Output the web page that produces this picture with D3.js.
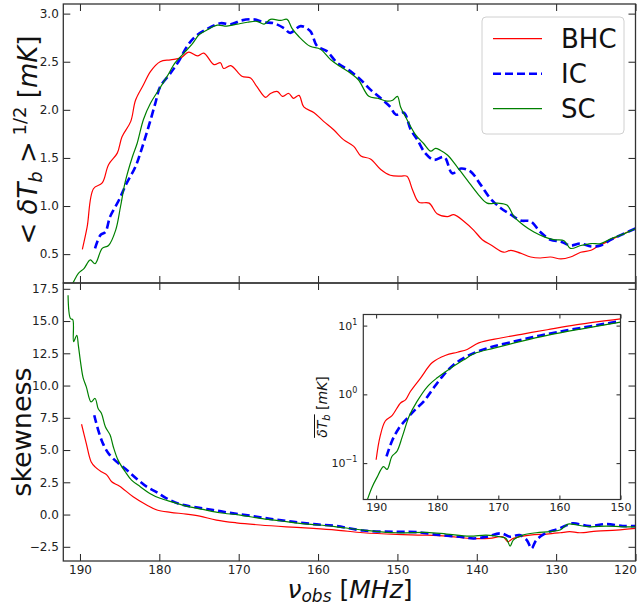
<!DOCTYPE html>
<html>
<head>
<meta charset="utf-8">
<script src="https://cdn.jsdelivr.net/npm/d3@7"></script>
<style>
  body { margin: 0; background: #fff; }
  text { font-family: "DejaVu Sans", sans-serif; }
</style>
</head>
<body>
<div id="chart"></div>
<script>
// ---- top panel: <dTb>^{1/2} [mK] vs nu_obs ----
const bhcStdFreq = [189.7,189.1,188.3,187.2,186.4,185.3,184.7,183.6,183.0,182.0,181.1,179.9,178.6,177.3,176.3,175.2,174.4,173.1,172.3,171.9,171.0,169.6,168.5,167.7,166.6,166.0,165.1,164.5,163.7,163.1,162.4,161.8,160.5,159.3,158.0,156.8,155.5,154.6,153.4,152.1,150.9,149.6,148.8,148.1,147.3,146.0,145.0,143.7,142.9,141.6,140.4,139.3,138.1,136.6,135.7,134.5,133.2,132.0,130.7,129.4,128.2,126.9,125.6,124.8,123.5,122.3,121.0,119.9];
const bhcStd = [0.55,0.78,1.18,1.24,1.43,1.55,1.72,1.88,2.10,2.26,2.40,2.50,2.52,2.54,2.60,2.56,2.59,2.47,2.49,2.43,2.46,2.35,2.33,2.24,2.13,2.17,2.19,2.14,2.17,2.12,2.15,2.03,1.97,1.88,1.79,1.69,1.62,1.52,1.49,1.38,1.32,1.31,1.31,1.17,1.04,1.03,0.92,0.89,0.91,0.84,0.75,0.65,0.59,0.52,0.54,0.51,0.47,0.46,0.47,0.45,0.47,0.52,0.54,0.58,0.63,0.68,0.73,0.77];

const icStdFreq = [188.1,187.4,186.8,186.2,185.1,184.1,183.0,182.2,181.3,180.5,179.9,178.6,177.6,176.5,175.5,174.0,172.3,171.0,169.6,168.1,166.8,165.6,164.3,163.5,162.2,161.0,160.1,158.9,157.6,155.9,154.6,153.4,152.1,150.9,150.2,149.2,148.3,147.5,146.5,145.4,144.1,143.1,142.0,140.8,139.5,138.3,137.0,135.7,134.5,133.2,132.0,130.7,129.4,128.2,126.9,125.6,124.4,123.1,121.8,119.9];
const icStd = [0.56,0.70,0.73,0.89,1.06,1.24,1.41,1.60,1.84,2.07,2.24,2.38,2.50,2.66,2.76,2.84,2.90,2.89,2.93,2.94,2.91,2.90,2.85,2.80,2.87,2.82,2.66,2.61,2.49,2.40,2.31,2.21,2.12,2.03,1.95,1.97,1.79,1.69,1.55,1.48,1.51,1.34,1.39,1.36,1.22,1.08,0.98,0.91,0.85,0.84,0.73,0.65,0.63,0.59,0.61,0.58,0.59,0.65,0.70,0.77];

const scStdFreq = [191.5,190.9,190.2,189.5,188.7,188.1,187.2,186.4,185.5,184.9,184.3,183.4,182.8,182.0,181.1,179.9,179.0,178.0,176.9,175.9,175.0,174.0,172.7,171.5,170.2,168.9,167.7,166.8,166.0,164.7,163.9,163.3,162.4,161.0,159.7,158.4,157.2,155.9,154.9,153.6,152.5,151.3,150.6,150.0,149.6,148.8,147.7,146.7,145.8,145.2,144.6,143.7,142.5,141.2,139.9,138.7,137.4,136.2,135.3,134.1,132.8,131.5,130.3,129.0,128.2,126.9,125.6,124.4,123.1,121.8,119.9];
const scStd = [0.12,0.20,0.30,0.35,0.44,0.40,0.56,0.59,0.75,0.99,1.25,1.51,1.65,1.90,2.07,2.23,2.35,2.49,2.59,2.68,2.78,2.83,2.88,2.87,2.89,2.91,2.92,2.89,2.94,2.93,2.94,2.85,2.76,2.66,2.63,2.52,2.45,2.38,2.31,2.14,2.12,2.09,2.10,2.14,2.03,1.90,1.74,1.65,1.57,1.60,1.58,1.53,1.41,1.27,1.13,1.03,1.03,1.01,0.89,0.80,0.73,0.68,0.65,0.64,0.56,0.59,0.61,0.61,0.66,0.70,0.77];

// ---- bottom panel: skewness ----
const bhcSkewFreq = [189.8,189.2,188.6,188.1,187.3,186.6,186.0,185.0,183.3,181.6,180.3,178.6,176.6,174.9,172.8,170.3,167.3,164.0,160.6,157.7,154.3,150.1,146.8,143.8,140.9,138.4,136.7,136.1,135.4,133.3,131.2,129.5,128.3,127.0,124.9,122.4,120.0];
const bhcSkew = [7.0,5.5,4.1,3.7,3.32,3.06,2.54,2.2,1.38,0.74,0.35,0.17,0.04,-0.12,-0.43,-0.64,-0.81,-0.95,-1.07,-1.2,-1.41,-1.54,-1.59,-1.67,-1.85,-1.85,-1.72,-2.1,-1.85,-1.59,-1.51,-1.41,-1.33,-1.41,-1.28,-1.2,-1.07];

const icSkewFreq = [188.2,187.7,187.1,186.4,185.4,184.1,182.9,181.6,180.3,179.1,177.4,175.7,173.2,170.7,168.2,165.6,163.1,160.6,157.7,154.3,150.1,147.6,144.7,142.1,140.4,138.8,136.9,135.8,134.6,133.7,133.1,132.5,131.2,129.9,128.9,127.9,125.8,123.7,121.6,120.0];
const icSkew = [7.7,6.55,5.5,4.74,4.1,3.45,2.8,2.16,1.72,1.26,0.81,0.60,0.35,0.09,-0.12,-0.37,-0.56,-0.74,-0.89,-1.24,-1.34,-1.36,-1.59,-1.72,-1.85,-1.72,-1.46,-1.72,-1.59,-1.98,-2.62,-1.98,-1.41,-1.15,-0.89,-0.68,-0.89,-0.74,-0.89,-0.89];

const scSkewFreq = [191.5,191.2,190.9,190.8,190.4,190.2,189.9,189.6,189.2,188.6,188.1,187.7,187.3,186.8,186.2,185.8,185.2,184.3,183.5,182.4,181.2,179.9,178.2,176.6,174.5,172.4,169.8,167.3,164.8,162.3,159.8,157.7,154.3,150.1,146.3,143.8,140.9,138.8,137.1,136.3,135.8,135.4,134.2,132.5,130.8,129.5,128.5,127.4,125.8,123.7,121.6,120.0];
const scSkew = [17.0,15.2,15.1,13.4,13.9,13.1,11.7,10.6,9.9,8.74,9.0,8.2,7.85,6.8,6.16,5.26,4.22,3.32,2.67,2.16,1.64,1.26,0.95,0.66,0.40,0.14,-0.04,-0.30,-0.48,-0.68,-0.81,-0.95,-1.2,-1.41,-1.38,-1.51,-1.67,-1.59,-1.72,-1.85,-2.44,-1.98,-1.59,-1.41,-1.33,-1.2,-0.74,-0.81,-0.95,-0.89,-0.95,-0.95];

// ---- inset: mean dTb [mK], log scale ----
const bhcMeanFreq = [190.0,189.35,188.5,187.4,186.0,185.2,184.4,182.7,180.8,178.6,176.7,175.1,173.2,169.6,165.8,162.0,157.1,150.0];
const bhcMean = [0.112,0.245,0.41,0.49,0.75,0.83,1.1,1.74,2.9,3.7,4.1,4.5,5.6,6.6,7.6,8.7,10.3,12.5];
const icMeanFreq = [188.3,187.4,186.3,184.9,183.6,182.2,180.8,179.2,177.3,175.1,171.8,168.0,163.1,157.6,150.0];
const icMean = [0.125,0.21,0.32,0.45,0.6,0.79,1.17,1.8,2.7,3.6,4.7,5.7,7.2,8.9,11.6];
const scMeanFreq = [191.4,190.7,189.9,188.8,188.2,187.4,186.6,185.7,184.6,183.3,181.6,180.0,177.8,175.6,174.0,170.7,166.3,162.0,156.5,150.0];
const scMean = [0.03,0.044,0.061,0.089,0.081,0.126,0.148,0.245,0.48,0.79,1.3,1.74,2.4,3.2,3.9,4.7,5.9,7.2,8.9,11.2];

const seriesNames = ["BHC", "IC", "SC"];
const seriesColors = ["#ff0000", "#0000ff", "#008000"];

const freqTicks = [190, 180, 170, 160, 150, 140, 130, 120];
const stdTicks = [0.5, 1.0, 1.5, 2.0, 2.5, 3.0];
const skewTicks = [-2.5, 0.0, 2.5, 5.0, 7.5, 10.0, 12.5, 15.0, 17.5];
const insetFreqTicks = [190, 180, 170, 160, 150];
const insetMeanTicks = [0.1, 1, 10];

// ------------------------------------------------------------
const W = 638, H = 606;
const svg = d3.select("#chart").append("svg").attr("width", W).attr("height", H);

const left = 63.3, right = 635.5;
const topY0 = 4, midY = 283, botY1 = 561;

const x = d3.scaleLinear().domain([192.1, 120]).range([left, right]);
const yTop = d3.scaleLinear().domain([0.2, 3.1]).range([midY, topY0]);
const yBot = d3.scaleLinear().domain([-3.6, 17.95]).range([botY1, midY]);

const styleFor = (i) => ({
  color: seriesColors[i],
  width: i === 1 ? 2.6 : 1.2,
  dash: i === 1 ? "8,4" : null
});

const defs = svg.append("defs");
function clip(id, x0, y0, w, h) {
  defs.append("clipPath").attr("id", id).append("rect")
    .attr("x", x0).attr("y", y0).attr("width", w).attr("height", h);
}
clip("clipTop", left, topY0, right - left, midY - topY0);
clip("clipBot", left, midY, right - left, botY1 - midY);

function drawLines(g, xs, ys, sets) {
  sets.forEach((s, i) => {
    const pts = s[0].map((f, k) => [f, s[1][k]]);
    const line = d3.line().x(d => xs(d[0])).y(d => ys(d[1])).curve(d3.curveCatmullRom.alpha(0.5));
    const st = styleFor(i);
    g.append("path").datum(pts)
      .attr("d", line)
      .attr("fill", "none")
      .attr("stroke", st.color)
      .attr("stroke-width", st.width)
      .attr("stroke-dasharray", st.dash)
      .attr("stroke-linejoin", "round");
  });
}

function styleAxis(g) {
  g.select(".domain").remove();
  g.selectAll(".tick line").attr("stroke", "#222").attr("stroke-width", 1);
  g.selectAll(".tick text").attr("fill", "#222").style("font-size", "12px")
    .style("font-family", "DejaVu Sans, sans-serif");
}

// ---- top panel ----
const gTop = svg.append("g");
drawLines(gTop.append("g").attr("clip-path", "url(#clipTop)"), x, yTop,
  [[bhcStdFreq, bhcStd], [icStdFreq, icStd], [scStdFreq, scStd]]);

gTop.append("g").attr("transform", `translate(${left},0)`)
  .call(d3.axisLeft(yTop).tickValues(stdTicks).tickSize(-7).tickPadding(4.5).tickFormat(d3.format(".1f")))
  .call(styleAxis);
gTop.append("g").attr("transform", `translate(${right},0)`)
  .call(d3.axisRight(yTop).tickValues(stdTicks).tickSize(-7).tickFormat(""))
  .call(styleAxis);
gTop.append("g").attr("transform", `translate(0,${topY0})`)
  .call(d3.axisTop(x).tickValues(freqTicks).tickSize(-7).tickFormat(""))
  .call(styleAxis);
gTop.append("g").attr("transform", `translate(0,${midY})`)
  .call(d3.axisBottom(x).tickValues(freqTicks).tickSize(-7).tickFormat(""))
  .call(styleAxis);

// ---- bottom panel ----
const gBot = svg.append("g");
drawLines(gBot.append("g").attr("clip-path", "url(#clipBot)"), x, yBot,
  [[bhcSkewFreq, bhcSkew], [icSkewFreq, icSkew], [scSkewFreq, scSkew]]);

gBot.append("g").attr("transform", `translate(${left},0)`)
  .call(d3.axisLeft(yBot).tickValues(skewTicks).tickSize(-7).tickPadding(4.5).tickFormat(d3.format(".1f")))
  .call(styleAxis);
gBot.append("g").attr("transform", `translate(${right},0)`)
  .call(d3.axisRight(yBot).tickValues(skewTicks).tickSize(-7).tickFormat(""))
  .call(styleAxis);
gBot.append("g").attr("transform", `translate(0,${midY})`)
  .call(d3.axisTop(x).tickValues(freqTicks).tickSize(-7).tickFormat(""))
  .call(styleAxis);
const xAxisG = gBot.append("g").attr("transform", `translate(0,${botY1})`)
  .call(d3.axisBottom(x).tickValues(freqTicks).tickSize(-7).tickPadding(4).tickFormat(d3.format("d")))
  .call(styleAxis);
// last label sits flush against the right edge in the original
xAxisG.selectAll(".tick").filter(d => d === 120).select("text")
  .attr("text-anchor", "end").attr("x", 1);

// frames
svg.append("rect").attr("x", left).attr("y", topY0).attr("width", right - left).attr("height", midY - topY0)
  .attr("fill", "none").attr("stroke", "#333").attr("stroke-width", 1.3);
svg.append("rect").attr("x", left).attr("y", midY).attr("width", right - left).attr("height", botY1 - midY)
  .attr("fill", "none").attr("stroke", "#333").attr("stroke-width", 1.3);

// ---- axis labels ----
const topLab = svg.append("text")
  .attr("transform", "translate(37,140) rotate(-90)")
  .attr("text-anchor", "middle").style("font-size", "26px").attr("fill", "#111");
topLab.append("tspan").text("< ");
topLab.append("tspan").style("font-style", "italic").text("δT");
topLab.append("tspan").style("font-style", "italic").style("font-size", "18px").attr("dy", 5).text("b");
topLab.append("tspan").attr("dy", -5).text(" >");
topLab.append("tspan").style("font-size", "18px").attr("dy", -11).text(" 1/2");
topLab.append("tspan").attr("dy", 11).text(" [");
topLab.append("tspan").style("font-style", "italic").text("mK");
topLab.append("tspan").text("]");

svg.append("text")
  .attr("transform", "translate(31,432) rotate(-90)")
  .attr("text-anchor", "middle").style("font-size", "27px").attr("fill", "#111")
  .text("skewness");

const xLab = svg.append("text")
  .attr("x", 350).attr("y", 598)
  .attr("text-anchor", "middle").style("font-size", "25px").attr("fill", "#111");
xLab.append("tspan").style("font-style", "italic").text("ν");
xLab.append("tspan").style("font-style", "italic").style("font-size", "17px").attr("dy", 3.5).text("obs");
xLab.append("tspan").attr("dy", -3.5).text(" [");
xLab.append("tspan").style("font-style", "italic").text("MHz");
xLab.append("tspan").text("]");

// ---- legend ----
const leg = svg.append("g");
leg.append("rect").attr("x", 482).attr("y", 17).attr("width", 142).attr("height", 117).attr("rx", 4)
  .attr("fill", "#fff").attr("fill-opacity", 0.85).attr("stroke", "#d0d0d0").attr("stroke-width", 1);
seriesNames.forEach((name, i) => {
  const yy = 38.7 + i * 35;
  const st = styleFor(i);
  leg.append("line").attr("x1", 493).attr("x2", 542).attr("y1", yy).attr("y2", yy)
    .attr("stroke", st.color).attr("stroke-width", st.width).attr("stroke-dasharray", st.dash);
  leg.append("text").attr("x", 561).attr("y", yy + 9.6).style("font-size", "26px").attr("fill", "#111").text(name);
});

// ---- inset ----
const inL = 363.3, inR = 620.5, inT = 314.5, inB = 499.5;
const xi = d3.scaleLinear().domain([192.1, 150]).range([inL, inR]);
const yi = d3.scaleLog().domain([0.0296, 14.5]).range([inB, inT]);

const gIn = svg.append("g");
gIn.append("rect").attr("x", inL).attr("y", inT).attr("width", inR - inL).attr("height", inB - inT).attr("fill", "#fff");
clip("clipIn", inL, inT, inR - inL, inB - inT);
drawLines(gIn.append("g").attr("clip-path", "url(#clipIn)"), xi, yi,
  [[bhcMeanFreq, bhcMean], [icMeanFreq, icMean], [scMeanFreq, scMean]]);

function styleInset(g) {
  styleAxis(g);
  g.selectAll(".tick text").style("font-size", "11px");
}
gIn.append("g").attr("transform", `translate(0,${inB})`)
  .call(d3.axisBottom(xi).tickValues(insetFreqTicks).tickSize(-4).tickPadding(3.5).tickFormat(d3.format("d")))
  .call(styleInset);
gIn.append("g").attr("transform", `translate(0,${inT})`)
  .call(d3.axisTop(xi).tickValues(insetFreqTicks).tickSize(-4).tickFormat(""))
  .call(styleInset);
gIn.append("g").attr("transform", `translate(${inR},0)`)
  .call(d3.axisRight(yi).tickValues(insetMeanTicks).tickSize(-4).tickFormat(""))
  .call(styleInset);
const inLeft = gIn.append("g").attr("transform", `translate(${inL},0)`)
  .call(d3.axisLeft(yi).tickValues(insetMeanTicks).tickSize(-4).tickFormat(""))
  .call(styleInset);
inLeft.selectAll(".tick").each(function (d) {
  const t = d3.select(this).append("text").attr("x", -6).attr("dy", "0.32em")
    .attr("text-anchor", "end").attr("fill", "#222").style("font-size", "11px");
  t.append("tspan").text("10");
  t.append("tspan").style("font-size", "8px").attr("dy", -5).text(String(Math.round(Math.log10(d))).replace("-", "−"));
});
gIn.append("rect").attr("x", inL).attr("y", inT).attr("width", inR - inL).attr("height", inB - inT)
  .attr("fill", "none").attr("stroke", "#333").attr("stroke-width", 1.2);

// inset y label with overline over dT_b
const inLabG = svg.append("g").attr("transform", "translate(327,407) rotate(-90)");
const inLab = inLabG.append("text").attr("text-anchor", "start").style("font-size", "14px").attr("fill", "#111");
inLab.append("tspan").style("font-style", "italic").text("δT");
inLab.append("tspan").style("font-style", "italic").style("font-size", "10px").attr("dy", 3).text("b");
inLab.append("tspan").attr("dy", -3).text(" [");
inLab.append("tspan").style("font-style", "italic").text("mK");
inLab.append("tspan").text("]");
const totalW = inLab.node().getComputedTextLength();
const barW = inLab.node().getSubStringLength(0, 3);
inLab.attr("x", -totalW / 2);
inLabG.append("line").attr("x1", -totalW / 2).attr("x2", -totalW / 2 + barW)
  .attr("y1", -12.5).attr("y2", -12.5).attr("stroke", "#111").attr("stroke-width", 1);
</script>
</body>
</html>
